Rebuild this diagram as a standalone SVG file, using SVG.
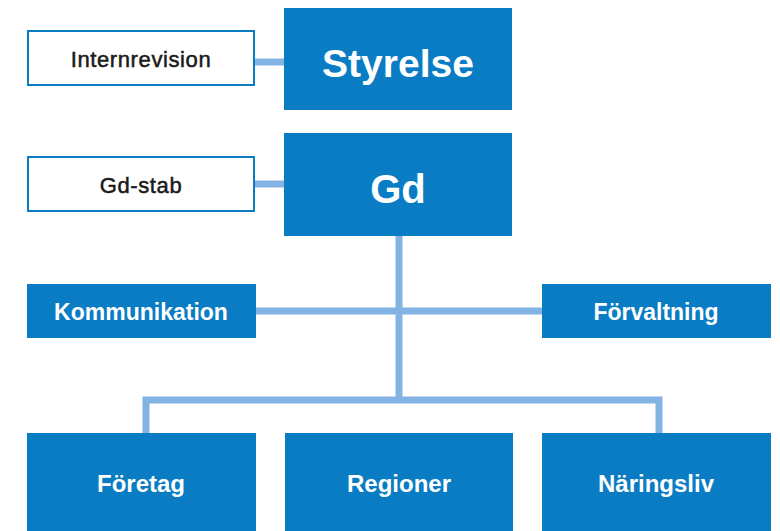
<svg xmlns="http://www.w3.org/2000/svg" width="780" height="531" viewBox="0 0 780 531">
<style>
.blue{fill:#0a7cc4}
.white{fill:#ffffff;stroke:#0a7cc4;stroke-width:2}
.conn{stroke:#82b3e2;stroke-width:7;fill:none}
text{font-family:"Liberation Sans",Arial,sans-serif;text-anchor:middle}
.wt{fill:#ffffff;font-weight:bold}
.dt{fill:#1a1a1a;font-size:22px;letter-spacing:0.6px;stroke:#1a1a1a;stroke-width:0.5}
</style>
<rect width="780" height="531" fill="#ffffff"/>
<g id="connectors">
<line class="conn" x1="254" y1="62" x2="284" y2="62"/>
<line class="conn" x1="254" y1="184" x2="284" y2="184"/>
<line class="conn" x1="399" y1="236" x2="399" y2="400"/>
<line class="conn" x1="256" y1="311" x2="542" y2="311"/>
<polyline class="conn" points="146,433 146,400 659,400 659,433"/>
</g>
<g id="internrevision">
<rect class="white" x="28" y="31" width="226" height="54"/>
<text class="dt" x="141" y="67">Internrevision</text>
</g>
<g id="styrelse">
<rect class="blue" x="284" y="8" width="228" height="102"/>
<text class="wt" x="398" y="77" font-size="39">Styrelse</text>
</g>
<g id="gd-stab">
<rect class="white" x="28" y="157" width="226" height="54"/>
<text class="dt" x="141" y="193">Gd-stab</text>
</g>
<g id="gd">
<rect class="blue" x="284" y="133" width="228" height="103"/>
<text class="wt" x="398" y="203" font-size="40">Gd</text>
</g>
<g id="kommunikation">
<rect class="blue" x="27" y="284" width="229" height="54"/>
<text class="wt" x="141" y="320" font-size="23">Kommunikation</text>
</g>
<g id="forvaltning">
<rect class="blue" x="542" y="284" width="229" height="54"/>
<text class="wt" x="656" y="320" font-size="23">Förvaltning</text>
</g>
<g id="foretag">
<rect class="blue" x="27" y="433" width="229" height="98"/>
<text class="wt" x="141" y="492" font-size="24">Företag</text>
</g>
<g id="regioner">
<rect class="blue" x="285" y="433" width="228" height="98"/>
<text class="wt" x="399" y="492" font-size="24">Regioner</text>
</g>
<g id="naringsliv">
<rect class="blue" x="542" y="433" width="229" height="98"/>
<text class="wt" x="656" y="492" font-size="24">Näringsliv</text>
</g>
</svg>
